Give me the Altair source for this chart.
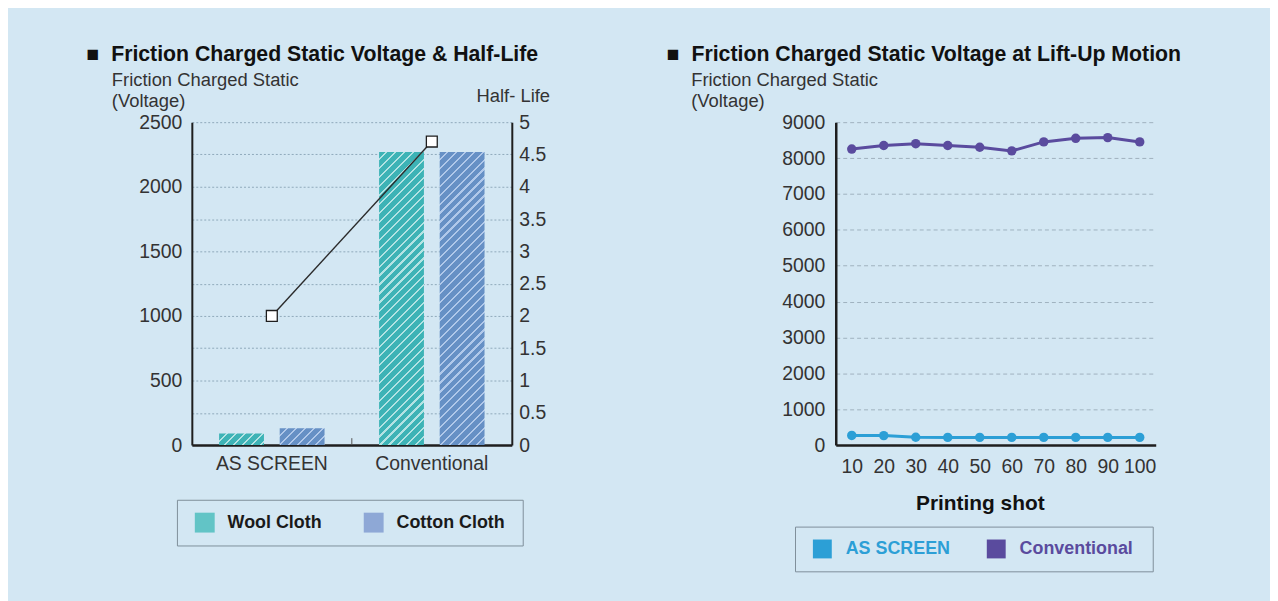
import altair as alt
import pandas as pd

# ---------------- data ----------------
groups = ["AS SCREEN", "Conventional"]
cloths = ["Wool Cloth", "Cotton Cloth"]
wool_voltage = [90, 2270]
cotton_voltage = [130, 2270]
half_life = [2.0, 4.7]

shots = [10, 20, 30, 40, 50, 60, 70, 80, 90, 100]
series_names = ["AS SCREEN", "Conventional"]
as_screen_voltage = [270, 265, 220, 215, 215, 215, 215, 215, 215, 215]
conventional_voltage = [8250, 8350, 8400, 8350, 8300, 8200, 8450, 8550, 8570, 8450]

left_ticks = list(range(0, 2501, 250))
right_ticks = [0, 0.5, 1, 1.5, 2, 2.5, 3, 3.5, 4, 4.5, 5]
line_ticks = list(range(0, 9001, 1000))

# ---------------- tables ----------------
bar_rows = []
for i, g in enumerate(groups):
    bar_rows.append({"group": g, "cloth": cloths[0], "voltage": wool_voltage[i]})
    bar_rows.append({"group": g, "cloth": cloths[1], "voltage": cotton_voltage[i]})
bar_df = pd.DataFrame(bar_rows)
hl_df = pd.DataFrame({"group": groups, "half_life": half_life})

line_rows = []
for i, s in enumerate(shots):
    line_rows.append({"shot": s, "series": series_names[0], "value": as_screen_voltage[i]})
    line_rows.append({"shot": s, "series": series_names[1], "value": conventional_voltage[i]})
line_df = pd.DataFrame(line_rows)

FONT = "Liberation Sans"
TXT = "#333333"
AXIS_DARK = "#1e1e1e"
AS_COL = "#2c9fd6"
CONV_COL = "#5a4b9e"

PLOT_W, PLOT_H = 322, 325
V_MAX = 2500
X_OFF_INNER, X_OFF_OUTER = 0.26, 0.45

# hatch styling (base colour, stripe colour) per cloth
HATCH = {
    cloths[0]: ("#3db3b6", "#b3e3e3"),
    cloths[1]: ("#6690c5", "#b0c8ea"),
}
LEGEND_SWATCH = ["#62c4c6", "#8ea8d6"]


def hatch_gradient(base, light, w, h, period=9.0, white=2.2):
    """Diagonal '/' stripes built as a hard-stop linear gradient in bbox units."""
    r = h / w
    s = (1 + r) / (1 + r * r)
    total = w + h
    stops = []
    pos = 0.0
    while pos < total:
        a = pos / total
        b = min(pos + period - white, total) / total
        c = min(pos + period, total) / total
        stops += [
            {"offset": a, "color": base},
            {"offset": b, "color": base},
            {"offset": b, "color": light},
            {"offset": c, "color": light},
        ]
        pos += period
    return {"gradient": "linear", "x1": 0, "y1": 0, "x2": s, "y2": s * r, "stops": stops}


band = PLOT_W / len(groups)
sub_step = band / (len(cloths) - X_OFF_INNER + 2 * X_OFF_OUTER)
bar_w = sub_step * (1 - X_OFF_INNER)

bar_conditions = []
for row in bar_rows:
    base, light = HATCH[row["cloth"]]
    h = max(row["voltage"] / V_MAX * PLOT_H, 1.0)
    bar_conditions.append({
        "test": "datum.group == '%s' && datum.cloth == '%s'" % (row["group"], row["cloth"]),
        "value": hatch_gradient(base, light, bar_w, h),
    })

# ---------------- left chart ----------------
x_left_axis = alt.Axis(title=None, labelAngle=0, labelFontSize=19.5, labelColor=TXT,
                       labelPadding=10, ticks=False, domainColor=AXIS_DARK, domainWidth=2.5)
x_left_scale = alt.Scale(paddingInner=0, paddingOuter=0)
x_left = alt.X("group:N", sort=groups, scale=x_left_scale, axis=x_left_axis)

left_legend = {
    "orient": "none", "legendX": -15, "legendY": 380, "direction": "horizontal",
    "title": "\u00a0", "titleOrient": "right", "titleFontSize": 2, "titlePadding": 5,
    "symbolType": "square", "symbolSize": 400, "symbolStrokeWidth": 0, "symbolOffset": 5,
    "labelFontSize": 18, "labelFontWeight": "bold", "labelColor": "#1a1a1a",
    "labelOffset": 13, "columnPadding": 37, "padding": 13, "strokeColor": "#7f8f9a",
}

bars = alt.Chart(bar_df).mark_bar().encode(
    x=x_left,
    xOffset=alt.XOffset("cloth:N", sort=cloths,
                        scale=alt.Scale(paddingInner=X_OFF_INNER, paddingOuter=X_OFF_OUTER)),
    y=alt.Y(
        "voltage:Q",
        scale=alt.Scale(domain=[0, V_MAX], nice=False),
        axis=alt.Axis(
            values=left_ticks, format="d",
            labelExpr="datum.value % 500 === 0 ? datum.label : ''",
            title=["Friction Charged Static", "(Voltage)"],
            titleAngle=0, titleAlign="left", titleBaseline="top",
            titleX=-81, titleY=-52, titleFontSize=18.5, titleFontWeight="normal",
            titleColor=TXT, titleLineHeight=21,
            labelFontSize=19.5, labelColor=TXT, labelPadding=10, ticks=False,
            domainColor=AXIS_DARK, domainWidth=2,
            grid=True, gridColor="#8fa9ba", gridDash=[2, 2], gridWidth=1,
        ),
    ),
    color={
        "field": "cloth", "type": "nominal", "sort": cloths,
        "scale": {"domain": cloths, "range": LEGEND_SWATCH},
        "legend": left_legend,
        "condition": bar_conditions,
    },
)

# small separator tick between the two groups on the baseline
sep_tick = alt.Chart(hl_df).transform_filter(
    alt.datum.group == groups[1]
).mark_rule(color="#555555", strokeWidth=1).encode(
    x=alt.X("group:N", sort=groups, scale=x_left_scale, axis=x_left_axis, bandPosition=0),
    y=alt.value(318), y2=alt.value(325),
)

hl_line = alt.Chart(hl_df).mark_line(color="#2b2b2b", strokeWidth=1.4).encode(
    x=x_left,
    y=alt.Y(
        "half_life:Q",
        scale=alt.Scale(domain=[0, 5], nice=False),
        axis=alt.Axis(
            orient="right", values=right_ticks, format="~g", grid=False,
            title="Half- Life", titleAngle=0, titleAlign="right", titleBaseline="middle",
            titleX=38, titleY=-27, titleFontSize=18.5, titleFontWeight="normal",
            titleColor=TXT,
            labelFontSize=19.5, labelColor=TXT, labelPadding=7, ticks=False,
            domainColor=AXIS_DARK, domainWidth=2,
        ),
    ),
)
hl_pts = alt.Chart(hl_df).mark_point(
    shape="square", filled=True, fill="white", stroke="#1e1e1e",
    strokeWidth=1.3, size=120, opacity=1,
).encode(
    x=x_left,
    y=alt.Y("half_life:Q", scale=alt.Scale(domain=[0, 5], nice=False), axis=None),
)

left = alt.layer(bars, sep_tick, hl_line, hl_pts).resolve_scale(y="independent").properties(
    width=PLOT_W, height=PLOT_H,
    title=alt.TitleParams(
        text="\u25a0\u00a0\u00a0Friction Charged Static Voltage & Half-Life",
        anchor="start", frame="group", dx=-106, fontSize=21.4, fontWeight="bold",
        color="#111111", baseline="alphabetic", offset=-12,
    ),
)

# ---------------- right chart ----------------
x_right = alt.X(
    "shot:O", sort=shots,
    scale=alt.Scale(type="point", padding=0.5),
    axis=alt.Axis(
        labelAngle=0, labelFontSize=19.5, labelColor=TXT, labelPadding=13,
        labelOverlap=False, ticks=False, domainColor=AXIS_DARK, domainWidth=2.5,
        title="Printing shot", titleFontSize=21, titleFontWeight="bold",
        titleColor="#111111", titleX=145, titleY=59, titleBaseline="middle",
        titleAlign="center",
    ),
)
y_right = alt.Y(
    "value:Q",
    scale=alt.Scale(domain=[0, 9000], nice=False),
    axis=alt.Axis(
        values=line_ticks, format="d",
        title=["Friction Charged Static", "(Voltage)"],
        titleAngle=0, titleAlign="left", titleBaseline="top",
        titleX=-146, titleY=-52, titleFontSize=18.5, titleFontWeight="normal",
        titleColor=TXT, titleLineHeight=21,
        labelFontSize=19.5, labelColor=TXT, labelPadding=11, ticks=False,
        domainColor=AXIS_DARK, domainWidth=2.5,
        grid=True, gridColor="#9fb1be", gridDash=[4, 3], gridWidth=1,
    ),
)
color_scale = alt.Scale(domain=series_names, range=[AS_COL, CONV_COL])
right_legend = alt.Legend(
    orient="none", legendX=-41, legendY=407, direction="horizontal",
    title="\u00a0", titleOrient="right", titleFontSize=2, titlePadding=7,
    symbolType="square", symbolSize=361, symbolStrokeWidth=0,
    symbolOpacity=1, symbolOffset=5,
    labelFontSize=18, labelFontWeight="bold",
    labelColor={"expr": "datum.value == 'AS SCREEN' ? '%s' : '%s'" % (AS_COL, CONV_COL)},
    labelOffset=14, columnPadding=31, padding=13,
    strokeColor="#7f8f9a",
)

r_pts = alt.Chart(line_df).mark_circle(size=90, opacity=1).encode(
    x=x_right, y=y_right,
    color=alt.Color("series:N", scale=color_scale, legend=right_legend),
)
r_lines = alt.Chart(line_df).mark_line(strokeWidth=3).encode(
    x=x_right, y=y_right,
    color=alt.Color("series:N", scale=color_scale, legend=right_legend),
)

right = alt.layer(r_lines, r_pts).properties(
    width=PLOT_W, height=PLOT_H,
    title=alt.TitleParams(
        text="\u25a0\u00a0\u00a0Friction Charged Static Voltage at Lift-Up Motion",
        anchor="start", frame="group", dx=-170, fontSize=21.4, fontWeight="bold",
        color="#111111", baseline="alphabetic", offset=-12,
    ),
)

chart = alt.hconcat(left, right, spacing=118).resolve_scale(
    color="independent"
).resolve_legend(color="independent").properties(
    padding={"left": 79, "top": 34, "right": 89, "bottom": 30},
    background="#d3e7f3",
).configure(font=FONT).configure_view(stroke=None)

chart.save("out.html", embed_options={"renderer": "svg", "actions": False})
